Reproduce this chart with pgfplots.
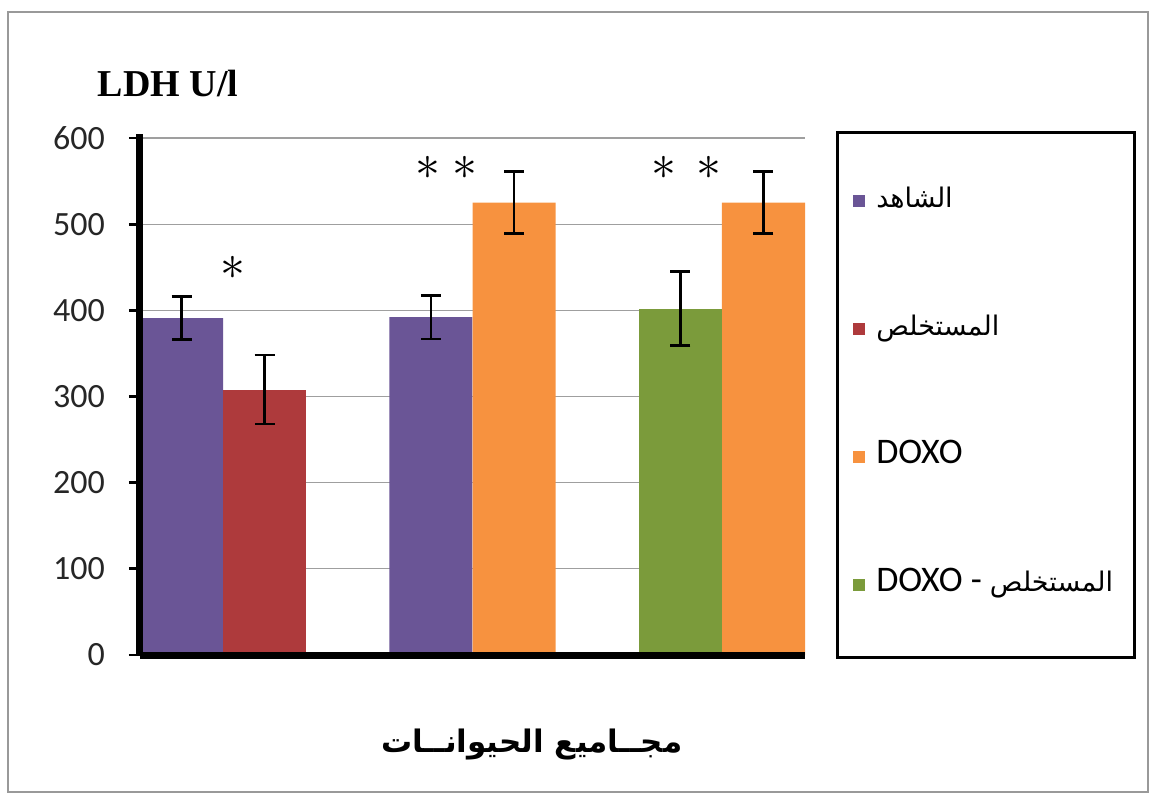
\documentclass[border=0pt]{standalone}
\usepackage{fontspec}
\usepackage{pgfplots}
\pgfplotsset{compat=1.18}
\setmainfont{Carlito}
\newfontfamily\arabicfont[Script=Arabic]{DejaVu Sans}
\newfontfamily\seriffont{Liberation Serif}
\TeXXeTstate=1
\definecolor{cpurple}{HTML}{6A5596}
\definecolor{cred}{HTML}{AE3A3C}
\definecolor{corange}{HTML}{F7923F}
\definecolor{cgreen}{HTML}{7B9B3B}
\begin{document}
\begin{tikzpicture}
\begin{axis}[
  scale only axis, width=332.5pt, height=258.5pt,
  xmin=-0.3333, xmax=2.3333, ymin=0, ymax=600,
  axis x line*=bottom, axis y line*=left,
  axis line style={line width=3.5pt, black, -},
  xtick=\empty,
  ytick={0,100,...,600},
  ymajorgrids, grid style={gray!75, line width=0.6pt},
  tick style={black, line width=1.4pt},
  major tick length=5.5pt, tick align=outside,
  yticklabel style={font=\fontsize{17}{19}\selectfont, text=black!85, xshift=-8.5pt},
  /pgf/number format/assume math mode=true,
  ybar, bar width=0.3333, bar shift=0pt,
  clip=false,
  error bars/y dir=both, error bars/y explicit,
  error bars/error bar style={line width=1.2pt, black},
  error bars/error mark options={rotate=90, mark size=5pt, line width=1.2pt, black},
  legend image code/.code={\fill[#1] (0pt,-3pt) rectangle (6pt,3pt);},
  legend cell align=left,
  legend style={draw=none, fill=none, at={(1.072,0.905)}, anchor=north west,
    inner sep=0pt, row sep=51pt,
    nodes={inner ysep=0pt, inner xsep=5.5pt, text height=10pt, text depth=3pt},
    font=\fontsize{18}{20}\selectfont},
]
\addplot[fill=cpurple, draw=none] coordinates {(-0.1667,391) +- (0,25) (0.8333,392) +- (0,25)};
\addlegendentry{\arabicfont\fontsize{13.5}{15}\selectfont\beginR الشاهد\endR}
\addplot[fill=cred, draw=none] coordinates {(0.1667,308) +- (0,40)};
\addlegendentry{\arabicfont\fontsize{13.5}{15}\selectfont\beginR المستخلص\endR}
\addplot[fill=corange, draw=none] coordinates {(1.1667,525) +- (0,36) (2.1667,525) +- (0,36)};
\addlegendentry{DOXO}
\addplot[fill=cgreen, draw=none] coordinates {(1.8333,402) +- (0,43)};
\addlegendentry{DOXO - {\arabicfont\fontsize{13.5}{15}\selectfont\beginR المستخلص\endR}}

\draw[line width=3.5pt] (rel axis cs:0,0) -- (rel axis cs:1,0);
\draw[line width=3.5pt] (rel axis cs:0,0) -- (rel axis cs:0,1.008);

\node[font=\fontsize{26}{26}\selectfont] at (axis cs:0.04,449) {$\ast$};
\node[font=\fontsize{26}{26}\selectfont] at (axis cs:0.82,565) {$\ast$};
\node[font=\fontsize{26}{26}\selectfont] at (axis cs:0.968,565) {$\ast$};
\node[font=\fontsize{26}{26}\selectfont] at (axis cs:1.768,565) {$\ast$};
\node[font=\fontsize{26}{26}\selectfont] at (axis cs:1.948,565) {$\ast$};

\node[anchor=west, font=\seriffont\bfseries\fontsize{19}{22}\selectfont] at (rel axis cs:-0.074,1.105) {LDH U/l};
\node[font=\arabicfont\bfseries\fontsize{15.5}{18}\selectfont] at (rel axis cs:0.589,-0.174) {\beginR مجــاميع الحيوانــات\endR};

\draw[line width=1.5pt] (rel axis cs:1.0496,1.0097) rectangle (rel axis cs:1.496,-0.004);
\draw[gray!80, line width=1pt] (rel axis cs:-0.1985,-0.265) rectangle (rel axis cs:1.5158,1.2437);
\path (rel axis cs:-0.2105,-0.2843) rectangle (rel axis cs:1.5188,1.2669);
\end{axis}
\end{tikzpicture}
\end{document}
